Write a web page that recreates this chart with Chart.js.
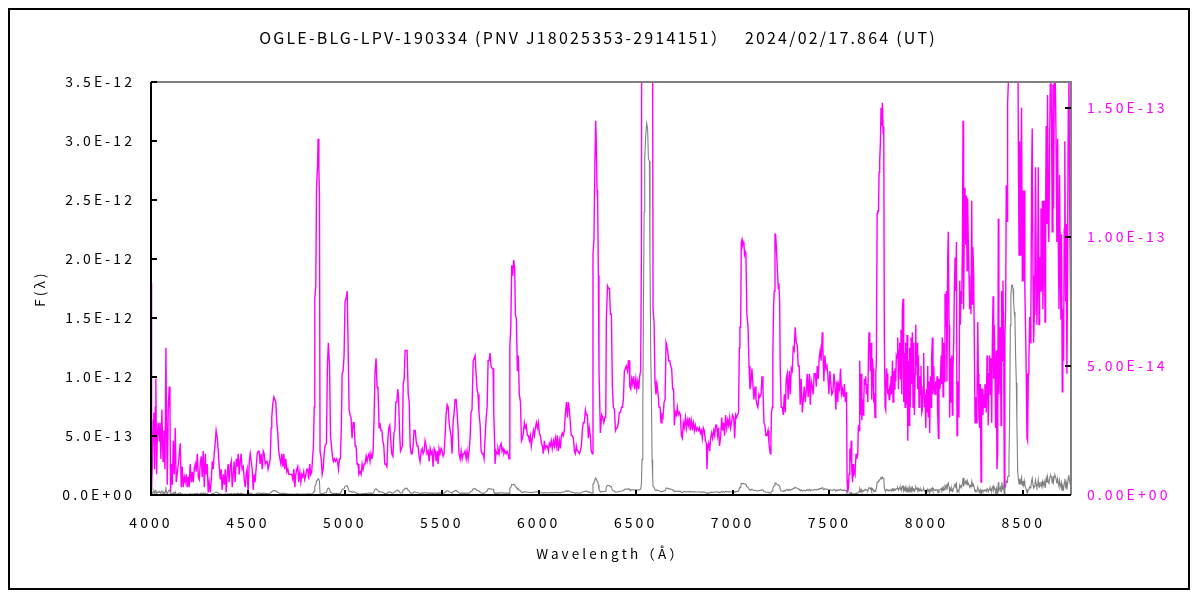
<!DOCTYPE html>
<html>
<head>
<meta charset="utf-8">
<script src="https://cdn.jsdelivr.net/npm/chart.js@4"></script>
<style>
html,body{margin:0;padding:0;background:#ffffff;}
canvas{display:block;}
</style>
</head>
<body>
<canvas id="c" width="1200" height="600" style="width:1200px;height:600px"></canvas>
<script>
// ---- texts ----
const TITLE = 'OGLE-BLG-LPV-190334 (PNV J18025353-2914151）\u3000 2024/02/17.864 (UT)';
const X_TITLE = 'Wavelength（Å）';
const Y_TITLE = 'F(λ)';

// ---- axis ranges and tick values (flux in units of 1e-14) ----
const FLUX_UNIT = 1e-14;
const X_RANGE = [4000, 8746];
const X_TICKS = [4000, 4500, 5000, 5500, 6000, 6500, 7000, 7500, 8000, 8500];
const LEFT_RANGE = [0, 350];   // 0 .. 3.5E-12
const LEFT_TICKS = [0, 50, 100, 150, 200, 250, 300, 350];
const RIGHT_RANGE = [0, 16];   // 0 .. 1.6E-13
const RIGHT_TICKS = [0, 5, 10, 15];

// ---- spectrum: wavelength (Å) ----
const wavelength = [
4000,4003,4007,4012,4015,4019,4022,4025,4029,4032,4037,4043,4046,4051,4056,4062,4067,4072,4077,4080,
4084,4089,4094,4098,4101,4106,4110,4115,4120,4125,4130,4135,4141,4146,4151,4156,4161,4166,4172,4177,
4182,4187,4192,4197,4202,4208,4213,4218,4223,4228,4233,4239,4244,4249,4254,4259,4264,4269,4275,4280,
4285,4290,4295,4300,4306,4311,4316,4321,4326,4331,4336,4342,4347,4352,4357,4362,4367,4373,4378,4383,
4388,4393,4398,4403,4409,4414,4419,4424,4429,4434,4440,4445,4450,4455,4460,4465,4470,4476,4481,4486,
4491,4496,4501,4507,4512,4517,4522,4527,4532,4537,4543,4548,4553,4558,4563,4568,4574,4579,4584,4589,
4594,4599,4604,4610,4615,4620,4623,4628,4634,4639,4644,4649,4654,4659,4665,4670,4675,4680,4685,4690,
4695,4701,4706,4711,4716,4721,4726,4732,4737,4742,4747,4752,4757,4762,4768,4773,4778,4783,4788,4793,
4799,4804,4809,4814,4819,4824,4829,4835,4838,4842,4845,4850,4854,4859,4862,4866,4869,4872,4878,4883,
4888,4893,4898,4905,4910,4915,4921,4926,4931,4936,4941,4946,4951,4957,4962,4967,4972,4977,4982,4986,
4991,4996,5001,5006,5012,5017,5022,5027,5032,5037,5043,5048,5053,5058,5063,5068,5073,5079,5084,5089,
5094,5099,5104,5110,5115,5120,5125,5130,5135,5140,5146,5151,5156,5161,5166,5171,5177,
5181,5186,5191,5196,5201,5206,5211,5217,5222,5227,5232,5237,5242,5248,5253,5258,5263,5268,5273,5277,
5282,5287,5292,5297,5301,5306,5311,5316,5321,5327,5332,5337,5342,5347,5352,5357,5363,5368,5373,5378,
5383,5388,5394,5399,5404,5409,5414,5419,5424,5430,5435,5440,5445,5450,5455,5461,5466,5471,5476,5481,
5486,5491,5497,5502,5507,5512,5517,5522,5528,5533,5538,5543,5548,5553,5559,5564,5569,5574,5579,5584,
5589,5595,5600,5605,5610,5615,5620,5626,5631,5636,5641,5646,5651,5656,5662,5667,5672,5677,5682,5687,
5692,5698,5703,5708,5713,5718,5723,5729,5734,5739,5744,5749,5754,5760,5765,5768,5772,5775,5780,5785,
5790,5796,5801,5806,5811,5816,5821,5826,5832,5837,5842,5847,5851,5856,5861,5866,5871,5876,5880,5885,
5890,5895,5900,5906,5911,5916,5921,5926,5931,5936,5942,5947,5952,5957,5962,5967,5973,5978,5983,5988,
5993,5998,6003,6009,6014,6019,6024,6029,6034,6040,6045,6050,6055,6060,6065,6070,6076,6081,6086,6091,
6096,6101,6107,6112,6117,6122,6127,6132,6137,6143,6148,6153,6158,6163,6168,6174,6179,6184,6189,6194,
6199,6204,6210,6215,6220,6225,6230,6235,6241,6246,6251,6256,6261,6266,6271,6277,6280,6285,6290,6294,
6297,6301,6304,6308,6311,6314,6318,
6320,6325,6330,6336,6341,6346,6349,6355,6360,6365,6370,6375,6380,6385,6391,6396,6401,6406,6411,6416,
6422,6427,6432,6437,6442,6447,6452,6458,6463,6466,6470,6475,6480,6485,6490,6495,6501,6506,6511,6516,
6521,6526,6530,6533,6537,6540,6544,6547,6552,6557,6562,6566,6571,6574,6578,6581,6585,6588,6590,6595,
6600,6605,6610,6616,6621,6626,6631,6636,6641,6647,6652,6657,6660,6665,6671,6676,6681,6686,6691,6696,
6700,6705,6710,6715,6720,6726,6731,6736,6741,6746,6751,6757,6762,6767,6772,6777,6782,6787,6793,6798,
6803,6808,6813,6818,6824,6829,6834,6839,6844,6849,6854,6860,6865,6868,6872,6877,6882,6887,6892,6897,
6903,6908,6913,6918,6923,6928,6933,6939,6944,6949,6954,6959,6964,6970,6975,6980,6985,6990,6995,7000,
7006,7011,7016,7021,7026,7031,7035,7038,7042,7045,7049,7052,7055,7059,7062,7066,7069,7074,7080,7085,
7090,7095,7100,7105,7110,7116,7121,7126,7131,7136,7141,7147,7152,7157,7162,7167,7172,7177,7183,7188,
7191,7195,7198,7201,7205,7208,7212,7215,7219,7222,7226,7229,7232,7236,7239,7243,7246,7251,7256,7262,
7267,7272,7277,7282,7287,7293,7298,7303,7308,7313,7318,7323,7329,7334,7339,7344,7349,7354,7360,7365,
7370,7375,7380,7385,7390,7396,7401,7406,7411,7416,7421,7427,7432,7437,7442,7447,7452,7457,7463,7466,
7471,7476,7482,7487,7492,7497,7502,7507,7512,7518,7523,7528,7533,7538,7543,
7546,7552,7557,7562,7567,7572,7577,7582,7588,7591,7594,7598,7601,7605,7608,7612,7615,7619,7622,7625,
7629,7632,7637,7641,7646,7649,7653,7656,7660,7663,7667,7670,7674,7677,7680,7684,7687,7691,7694,7698,
7701,7704,7708,7711,7715,7718,7722,7725,7728,7732,7735,7739,7742,7746,7749,7753,7756,7759,7763,7766,
7770,7773,7777,7780,7783,7787,7790,7794,7797,7801,7804,7808,7811,7814,7818,7821,7825,7828,7832,7835,
7838,7842,7845,7849,7852,7856,7859,7862,7866,7869,7873,7876,7880,7883,7887,7890,7893,7897,7900,7904,
7907,7911,7914,7917,7921,7924,7928,7931,7935,7938,7942,7945,7948,7952,7955,7959,7962,7966,7969,7972,
7976,7979,7983,7986,7990,7993,7997,8000,8003,8007,8010,8014,8017,8021,8024,8027,8031,8034,8038,8041,
8045,8048,8051,8055,8058,8062,8065,8069,8072,8076,8079,8082,8086,8089,8093,8096,8100,8103,8106,8110,
8113,8117,8120,8124,8127,8131,8134,8137,8141,8144,8148,8151,8155,8158,8161,8165,8168,8172,8175,8179,
8182,8186,8189,8192,8196,8199,8203,8206,8210,8213,8216,8220,8223,8227,8230,8234,8237,8240,8244,8247,
8251,8254,8258,8261,8265,8268,8271,8275,8278,8282,8285,8289,8292,8295,8299,8302,8306,8309,8313,8316,
8319,8323,8326,8330,8333,8337,8340,8344,8347,8350,8354,8357,8361,8364,8368,8371,8374,8378,8381,8385,
8388,8392,8395,8399,8402,8405,8409,8412,8416,8419,8423,8426,8429,8433,8436,8440,8443,8447,8450,8453,
8457,8460,8464,8467,8471,8474,8478,8481,8484,8488,8491,8495,8498,8502,8505,8508,8512,8515,8519,8522,
8526,8529,8533,8536,8539,8543,8546,8550,8553,8557,8560,8563,8567,8570,8574,8577,8581,8584,8587,8591,
8594,8598,8601,8605,8608,8612,8615,8618,8622,8625,8629,8632,8636,8639,8642,8646,8649,8653,8656,8660,
8663,8667,8670,8673,8677,8680,8684,8687,8691,8694,8697,8701,8704,8708,8711,8714,8718,8721,8725,8728,
8732,8735,8739,8744
];

// ---- spectrum: F(lambda), units of 1e-14 ----
const flux = [
8.2,0.2,1.2,2.9,3.2,1.0,3.4,4.5,0.8,2.1,2.8,2.1,2.8,1.4,3.3,1.3,2.5,1.0,5.7,2.8,
0.4,3.4,4.2,3.2,0.1,1.2,0.4,2.1,0.8,2.6,0.5,0.8,1.2,1.6,2.0,0.3,1.1,0.3,0.7,0.5,
0.8,0.3,0.7,0.3,1.2,0.5,0.9,0.5,1.0,1.2,0.9,1.6,0.7,0.6,1.2,1.5,0.7,1.7,0.3,1.6,
0.8,1.2,0.1,0.5,0.1,0.6,1.3,1.0,1.6,2.0,2.5,2.2,1.7,1.1,0.6,1.0,0.2,0.8,0.4,1.0,
0.1,0.8,1.2,0.5,1.1,1.3,0.3,0.8,1.3,0.5,1.4,1.1,1.6,0.8,1.3,1.6,1.0,1.1,0.6,0.3,
0.8,1.0,0.1,1.3,1.6,1.3,1.0,0.2,0.8,0.5,1.1,1.6,1.7,1.7,1.2,1.6,1.0,1.7,1.6,1.2,
1.3,1.3,1.0,1.2,1.4,2.6,3.0,3.5,3.8,3.7,3.6,2.8,2.4,1.7,1.4,1.2,1.6,1.1,1.6,1.0,
1.4,0.9,1.0,0.8,0.8,0.8,0.8,0.6,1.0,0.3,0.8,1.0,1.1,0.5,0.9,0.5,0.8,0.7,0.9,0.6,
0.8,1.0,1.0,0.6,1.2,0.8,0.9,1.6,1.9,3.4,7.6,8.1,11.9,12.7,13.8,12.7,11.6,1.7,1.4,0.8,
1.0,1.6,1.9,2.0,5.0,5.9,5.0,2.3,1.9,1.5,1.3,1.4,1.3,1.4,1.3,1.0,1.4,1.4,2.7,4.7,
4.8,5.4,7.5,7.6,7.9,5.7,3.3,3.1,3.0,2.2,2.8,2.8,1.9,1.9,1.2,1.2,0.8,0.9,0.8,1.2,
1.0,1.2,1.2,1.5,1.3,1.5,1.6,1.3,1.6,1.4,1.7,3.1,4.8,5.3,4.2,4.1,2.6,
2.8,2.5,2.5,2.1,1.9,1.2,1.2,1.1,2.2,2.6,2.7,2.1,1.6,1.5,2.4,2.5,3.6,3.6,4.1,3.8,
2.5,1.7,1.8,1.9,4.3,4.5,5.6,5.6,5.6,3.9,3.6,1.9,1.6,1.6,1.9,2.5,2.5,2.1,1.9,1.9,
1.5,1.3,1.7,1.8,1.6,1.7,2.1,1.9,1.6,1.7,1.3,1.8,1.6,1.7,1.1,1.8,1.7,1.3,1.7,1.2,
1.8,1.6,1.8,1.7,1.5,1.6,2.3,3.1,3.5,3.4,2.8,2.5,2.3,1.6,2.9,3.2,3.7,3.7,3.2,2.6,
1.6,1.4,1.7,1.4,1.6,1.6,1.7,1.4,1.7,1.4,1.7,2.2,3.2,3.3,5.2,5.3,5.4,4.7,4.1,3.9,
3.2,2.7,1.7,1.6,1.6,1.4,1.4,3.0,3.4,5.2,5.2,5.5,5.0,4.9,4.9,3.2,2.2,1.2,1.7,1.6,
1.8,1.6,1.9,2.0,1.7,1.8,1.6,1.7,1.6,1.7,1.6,1.4,5.7,6.5,8.9,8.5,9.1,8.8,7.0,6.8,
4.8,5.4,3.9,3.6,2.1,2.2,2.4,2.8,2.6,2.7,2.3,2.3,2.1,2.3,1.9,2.2,2.5,2.3,2.6,2.8,
2.6,2.8,2.4,2.3,2.0,1.9,1.6,2.1,1.8,1.9,1.9,1.7,2.0,1.9,2.1,1.8,2.1,1.9,2.2,1.9,
2.3,1.7,2.1,1.8,2.3,2.4,2.3,2.5,3.1,3.6,3.0,3.6,3.3,2.8,2.3,2.3,2.2,1.7,1.6,1.9,
1.7,1.7,1.6,1.7,1.9,2.5,2.8,2.8,3.3,3.1,3.1,2.2,2.6,2.3,1.7,1.6,9.3,9.9,12.9,14.5,
13.7,11.8,11.5,8.5,4.8,3.9,2.4,
2.4,3.1,3.0,2.8,3.0,3.0,6.8,8.1,8.0,8.0,7.0,7.0,4.2,3.4,3.3,2.5,2.6,2.6,2.8,3.2,
3.2,3.4,3.4,3.7,4.8,4.9,5.0,4.8,5.2,5.2,4.2,4.1,4.5,4.3,4.6,4.1,4.5,4.1,4.4,4.1,
4.6,4.8,9.6,30,68,150,240,285,305,315,310,285,283,200,120,90,30,15,7.2,6.7,
4.4,3.9,4.3,3.9,3.4,3.4,2.8,3.1,3.0,3.6,3.7,5.9,5.8,5.6,5.2,5.2,5.0,4.9,4.1,4.1,
2.7,3.2,3.1,3.4,3.1,3.2,3.1,2.3,2.2,2.8,2.6,3.0,2.6,2.9,2.7,3.0,2.5,2.9,2.6,2.8,
2.5,2.7,2.5,2.6,2.5,2.6,2.4,2.5,2.2,2.6,2.5,2.1,2.0,1.0,1.8,2.0,1.7,2.2,2.4,2.2,
2.5,2.3,2.7,2.7,2.3,2.6,1.9,2.3,3.0,2.5,2.8,2.3,3.1,2.6,2.9,2.7,3.0,2.6,2.8,3.1,
3.0,2.2,3.1,3.0,3.1,3.2,5.7,6.5,6.5,9.8,9.9,9.7,9.8,9.7,9.3,9.4,9.3,7.0,6.5,5.0,
4.1,4.3,4.9,4.3,3.7,4.2,3.7,3.5,3.4,3.9,3.8,3.9,4.6,4.1,2.8,2.7,2.3,2.3,2.5,2.0,
1.8,1.6,2.1,3.2,3.4,5.6,7.4,7.9,10.1,10.1,9.6,9.6,8.6,8.0,8.2,7.5,4.9,3.4,3.4,3.1,
3.9,3.2,4.5,4.7,3.7,4.8,3.9,4.9,4.8,5.7,5.6,6.5,5.9,5.8,5.0,5.0,3.5,4.5,3.2,3.7,
4.2,3.6,4.0,4.7,3.8,4.7,3.5,4.4,4.2,3.9,4.7,4.7,4.2,5.0,4.5,5.3,5.6,5.2,6.3,5.7,
4.4,5.4,4.9,5.0,4.6,3.9,4.8,4.3,3.9,4.0,4.7,4.3,3.3,4.4,3.6,
4.3,4.1,4.9,3.9,4.1,3.8,4.3,3.6,4.0,0.6,0.1,0.3,0.8,1.8,1.3,2.1,1.0,0.5,1.2,0.8,
0.9,0.8,1.6,1.4,1.6,2.7,2.5,5.2,3.1,4.7,2.9,3.7,3.1,3.6,4.5,4.3,4.6,3.9,4.3,3.6,
5.4,6.3,5.9,4.8,5.9,3.7,5.3,4.9,3.7,3.8,3.0,4.7,5.2,10.9,11.0,11.0,12.5,12.9,13.7,15.0,
14.3,15.2,14.0,14.3,6.2,3.4,3.3,4.9,4.7,3.9,4.1,3.7,4.1,4.0,4.6,3.9,5.2,3.6,4.8,4.1,
4.9,4.4,5.4,5.3,6.1,4.1,5.6,5.9,4.5,6.4,3.9,7.2,7.6,3.6,5.5,3.4,5.9,3.5,6.2,2.1,
5.2,2.7,5.7,3.4,6.1,4.3,6.3,3.4,5.9,3.1,4.7,6.6,5.0,5.9,4.1,5.4,3.4,4.6,3.9,5.0,
3.2,3.3,4.2,5.5,3.4,3.9,2.6,4.1,3.2,5.0,3.0,4.4,2.4,4.6,3.4,5.3,6.1,3.9,5.0,4.1,
3.9,4.4,4.1,4.6,3.2,2.2,4.5,4.1,4.3,5.4,4.3,6.1,3.8,5.9,4.4,7.8,6.5,7.9,4.4,9.2,
10.2,6.6,3.0,5.3,3.6,5.4,3.1,4.9,5.9,7.8,9.2,7.9,9.8,2.3,4.4,4.1,3.0,8.3,6.6,7.9,
7.4,9.8,14.5,7.2,10.6,11.9,9.7,11.6,8.7,11.5,9.9,8.5,7.2,7.9,7.0,11.4,7.4,9.6,8.5,6.1,
2.8,3.8,2.8,3.6,6.7,4.7,3.0,2.6,4.3,0.5,4.1,4.1,3.1,3.9,3.4,4.3,4.1,3.2,5.4,4.4,
2.7,4.7,5.4,3.9,5.3,2.8,5.8,7.7,4.5,6.6,4.8,2.6,5.6,1.0,1.7,10.7,3.9,5.0,6.5,2.7,
7.9,5.2,8.3,5.6,0.3,6.2,7.2,12.0,10.6,15.2,16.0,30,60,144,170,178,178,175,165,155,
150,120,95,60,20,14.0,9.3,13.7,9.3,12.7,15.0,8.3,11.8,8.3,11.8,7.9,6.3,4.7,2.2,2.1,
4.7,5.3,6.9,5.9,6.9,12.4,14.2,8.5,5.9,7.0,9.4,12.7,8.5,6.6,8.5,12.7,6.6,9.2,7.9,11.1,
7.9,11.4,7.2,9.2,11.4,6.7,10.9,14.3,10.5,15.5,10.5,9.8,13.7,15.9,16.5,14.3,10.2,15.9,11.1,16.0,
17,15.0,13.0,9.8,13.8,10.1,7.2,12.4,8.5,6.8,10.1,4.0,7.2,5.2,10.3,13.7,7.5,10.5,4.7,8.5,
15.0,17,11.4,7.5
];

// ---- helpers ----
function sci(v, d) {
  if (Math.abs(v) < 1e-40) return (0).toFixed(d) + 'E+00';
  let e = Math.floor(Math.log10(Math.abs(v)));
  let m = v / Math.pow(10, e);
  if (Number(m.toFixed(d)) >= 10) { m /= 10; e += 1; }
  return m.toFixed(d) + 'E' + (e < 0 ? '-' : '+') + String(Math.abs(e)).padStart(2, '0');
}
const FONT_FAMILY = "'Noto Sans CJK JP', 'Noto Sans', sans-serif";
const LS = '3.1px';

const points = wavelength.map((w, i) => ({x: w, y: flux[i]}));
const setTicks = arr => (s => { s.ticks = arr.map(v => ({value: v})); });

const decor = {
  id: 'decor',
  beforeInit(chart) { chart.ctx.letterSpacing = LS; },
  beforeUpdate(chart) { chart.ctx.letterSpacing = LS; },
  beforeDraw(chart) {
    const ctx = chart.ctx;
    ctx.save();
    ctx.fillStyle = '#ffffff';
    ctx.fillRect(0, 0, chart.width, chart.height);
    ctx.restore();
    ctx.letterSpacing = LS;
  },
  afterDraw(chart) {
    const {ctx, chartArea: a, scales} = chart;
    ctx.save();
    ctx.lineWidth = 2;
    ctx.strokeStyle = '#808080';
    ctx.beginPath();
    ctx.moveTo(a.left, a.top); ctx.lineTo(a.right, a.top); ctx.lineTo(a.right, a.bottom);
    ctx.stroke();
    ctx.strokeStyle = '#000000';
    ctx.beginPath();
    ctx.moveTo(a.left, a.top); ctx.lineTo(a.left, a.bottom); ctx.lineTo(a.right, a.bottom);
    ctx.stroke();
    // inward tick marks
    ctx.lineWidth = 2;
    ctx.beginPath();
    scales.x.ticks.forEach((t, i) => {
      const p = Math.round(scales.x.getPixelForTick(i));
      ctx.moveTo(p, a.bottom); ctx.lineTo(p, a.bottom - 5);
    });
    scales.yL.ticks.forEach((t, i) => {
      const p = Math.round(scales.yL.getPixelForTick(i));
      ctx.moveTo(a.left, p); ctx.lineTo(a.left + 6, p);
    });
    scales.yR.ticks.forEach((t, i) => {
      const p = Math.round(scales.yR.getPixelForTick(i));
      ctx.moveTo(a.right, p); ctx.lineTo(a.right - 6, p);
    });
    ctx.stroke();
    // outer frame
    ctx.lineWidth = 2;
    ctx.strokeRect(9, 9, 1180, 580);
    // main title
    ctx.letterSpacing = '2.2px';
    ctx.fillStyle = '#000000';
    ctx.font = '16px ' + FONT_FAMILY;
    ctx.textAlign = 'center';
    ctx.textBaseline = 'middle';
    ctx.fillText(TITLE, 598, 38);
    ctx.restore();
  }
};

const tickFont = {family: FONT_FAMILY, size: 14};
const titleFont = {family: FONT_FAMILY, size: 13.5};

new Chart(document.getElementById('c'), {
  type: 'line',
  data: {
    datasets: [
      {
        label: 'F (left)',
        data: points,
        yAxisID: 'yL',
        borderColor: '#808080',
        borderWidth: 1.1,
        pointRadius: 0,
        fill: false,
        tension: 0
      },
      {
        label: 'F (right, expanded)',
        data: points,
        yAxisID: 'yR',
        borderColor: '#ff00ff',
        borderWidth: 1.4,
        pointRadius: 0,
        fill: false,
        tension: 0
      }
    ]
  },
  plugins: [decor],
  options: {
    responsive: false,
    animation: false,
    events: [],
    parsing: false,
    normalized: true,
    layout: {padding: {top: 82, left: 0, right: 0, bottom: 0}},
    plugins: {legend: {display: false}, tooltip: {enabled: false}, title: {display: false}},
    scales: {
      x: {
        type: 'linear', position: 'bottom',
        min: X_RANGE[0], max: X_RANGE[1],
        grid: {display: false, drawTicks: false},
        border: {display: false},
        afterBuildTicks: setTicks(X_TICKS),
        ticks: {padding: 19, color: '#000000', font: tickFont,
                maxRotation: 0, autoSkip: false, callback: v => String(v)},
        title: {display: true, text: X_TITLE, color: '#000000', font: titleFont, padding: {top: 0, bottom: 38}},
        afterFit(s) { s.height = 105; }
      },
      yL: {
        type: 'linear', position: 'left',
        min: LEFT_RANGE[0], max: LEFT_RANGE[1],
        grid: {display: false, drawTicks: false},
        border: {display: false},
        afterBuildTicks: setTicks(LEFT_TICKS),
        ticks: {padding: 16, color: '#000000', font: tickFont, autoSkip: false,
                callback: v => sci(v * FLUX_UNIT, 1)},
        title: {display: true, text: Y_TITLE, color: '#000000', font: titleFont, padding: {top: 32, bottom: 0}},
        afterFit(s) { s.width = 151; }
      },
      yR: {
        type: 'linear', position: 'right',
        min: RIGHT_RANGE[0], max: RIGHT_RANGE[1],
        grid: {display: false, drawTicks: false, drawOnChartArea: false},
        border: {display: false},
        afterBuildTicks: setTicks(RIGHT_TICKS),
        ticks: {padding: 16, color: '#ff00ff', font: tickFont, autoSkip: false,
                callback: v => sci(v * FLUX_UNIT, 2)},
        afterFit(s) { s.width = 129; }
      }
    }
  }
});
</script>
</body>
</html>
